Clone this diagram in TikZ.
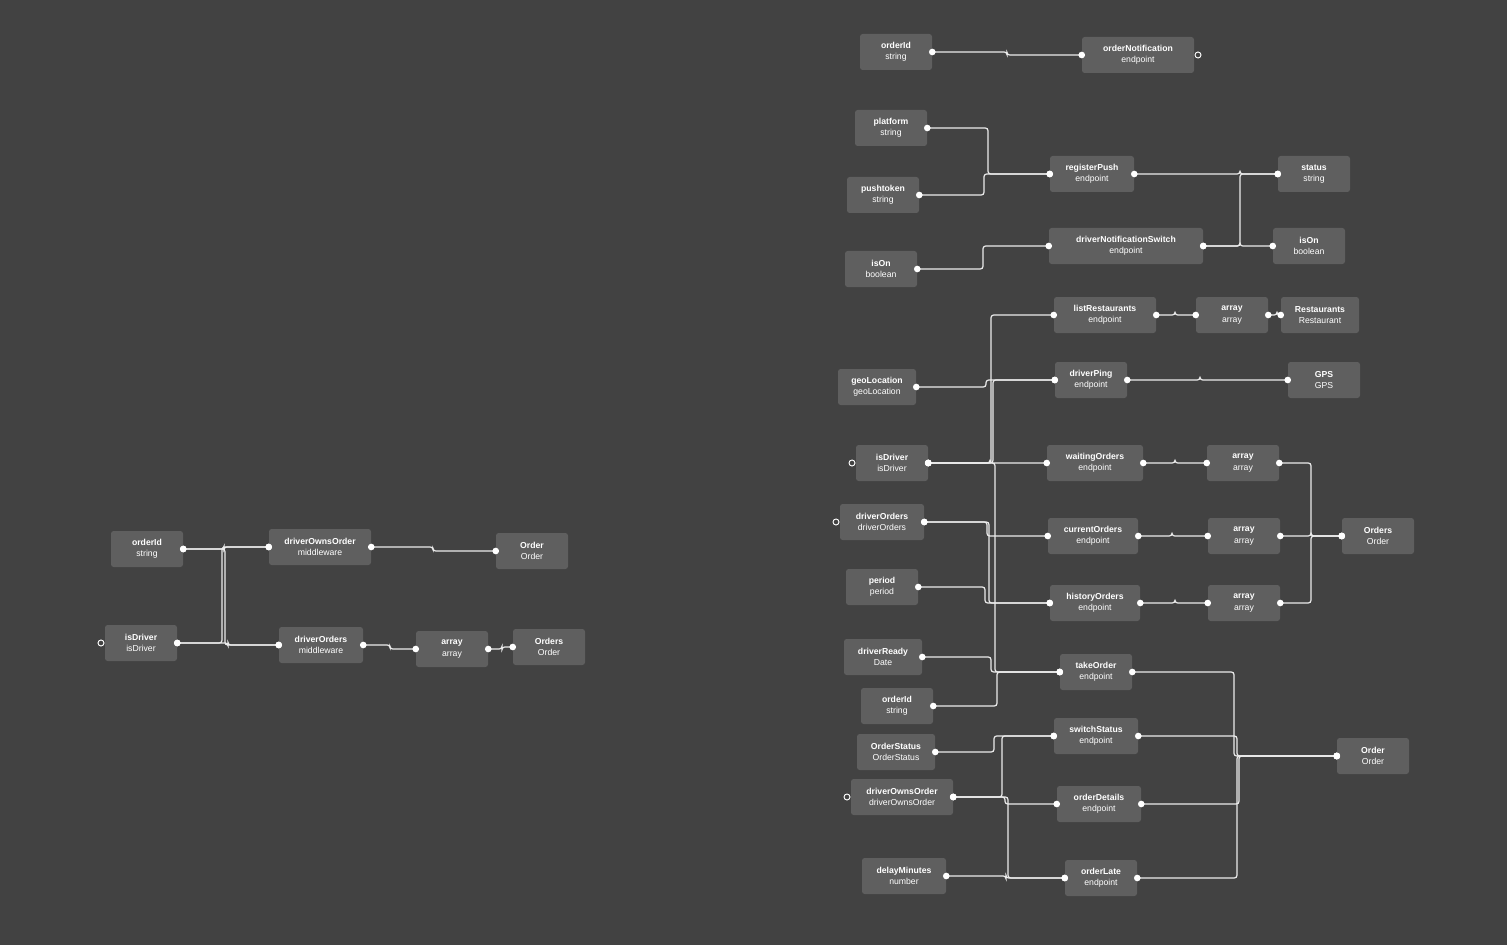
\documentclass[tikz,border=0pt]{standalone}
\usepackage{fontspec}
\setmainfont{Liberation Sans}
\begin{document}
\begin{tikzpicture}[x=0.75pt,y=-0.75pt,
  box/.style={fill=black!60!white!85, fill={rgb,255:red,95;green,95;blue,95}, rounded corners=2pt, text=white, align=center, minimum height=27pt, inner sep=1pt, font=\fontsize{6.5}{8.5}\selectfont},
  wire/.style={draw=white!92!black, line width=0.9pt, rounded corners=2pt},
  dot/.style={circle, fill=white, inner sep=0pt, minimum size=5pt},
  odot/.style={circle, draw=white, fill={rgb,255:red,66;green,66;blue,66}, line width=0.7pt, inner sep=0pt, minimum size=4.5pt}]
\fill[fill={rgb,255:red,66;green,66;blue,66}] (0,0) rectangle (1507,945);
\useasboundingbox (0,0) rectangle (1507,945);
\newcommand\nd[6]{\node[box, minimum width={#4*0.75pt}] (#1) at (#2,#3) {\textbf{#5}\\#6};}
\newcommand\wire[3]{\path (#3,0) coordinate (tmpx);
  \draw[wire] (#1.east) -- (#1.east -| tmpx) |- (#2.west);
  \node[dot] at (#1.east) {}; \node[dot] at (#2.west) {};}
% right panel sources
\nd{oid}{896}{52}{72}{orderId}{string}
\nd{onot}{1138}{55}{112}{orderNotification}{endpoint}
\nd{plat}{891}{128}{72}{platform}{string}
\nd{ptok}{883}{195}{72}{pushtoken}{string}
\nd{ison}{881}{269}{72}{isOn}{boolean}
\nd{geo}{877}{387}{78}{geoLocation}{geoLocation}
\nd{isdr}{892}{463}{72}{isDriver}{isDriver}
\nd{dord}{882}{522}{84}{driverOrders}{driverOrders}
\nd{per}{882}{587}{72}{period}{period}
\nd{drdy}{883}{657}{78}{driverReady}{Date}
\nd{oid2}{897}{706}{72}{orderId}{string}
\nd{ost}{896}{752}{78}{OrderStatus}{OrderStatus}
\nd{doo}{902}{797}{102}{driverOwnsOrder}{driverOwnsOrder}
\nd{dmin}{904}{876}{84}{delayMinutes}{number}
% endpoints
\nd{rp}{1092}{174}{84}{registerPush}{endpoint}
\nd{dns}{1126}{246}{154}{driverNotificationSwitch}{endpoint}
\nd{lr}{1105}{315}{102}{listRestaurants}{endpoint}
\nd{dp}{1091}{380}{72}{driverPing}{endpoint}
\nd{wo}{1095}{463}{96}{waitingOrders}{endpoint}
\nd{co}{1093}{536}{90}{currentOrders}{endpoint}
\nd{ho}{1095}{603}{90}{historyOrders}{endpoint}
\nd{to}{1096}{672}{72}{takeOrder}{endpoint}
\nd{ss}{1096}{736}{84}{switchStatus}{endpoint}
\nd{od}{1099}{804}{84}{orderDetails}{endpoint}
\nd{ol}{1101}{878}{72}{orderLate}{endpoint}
% outputs
\nd{stat}{1314}{174}{72}{status}{string}
\nd{ison2}{1309}{246}{72}{isOn}{boolean}
\nd{a1}{1232}{315}{72}{array}{array}
\nd{rest}{1320}{315}{78}{Restaurants}{Restaurant}
\nd{gps}{1324}{380}{72}{GPS}{GPS}
\nd{a2}{1243}{463}{72}{array}{array}
\nd{a3}{1244}{536}{72}{array}{array}
\nd{a4}{1244}{603}{72}{array}{array}
\nd{ords}{1378}{536}{72}{Orders}{Order}
\nd{ord}{1373}{756}{72}{Order}{Order}
% left panel
\nd{loid}{147}{549}{72}{orderId}{string}
\nd{lisd}{141}{643}{72}{isDriver}{isDriver}
\nd{ldoo}{320}{547}{102}{driverOwnsOrder}{middleware}
\nd{ldor}{321}{645}{84}{driverOrders}{middleware}
\nd{lord}{532}{551}{72}{Order}{Order}
\nd{larr}{452}{649}{72}{array}{array}
\nd{lords}{549}{647}{72}{Orders}{Order}
% wires right
\wire{oid}{onot}{1007}
\wire{plat}{rp}{988}
\wire{ptok}{rp}{984}
\wire{ison}{dns}{983}
\wire{rp}{stat}{1240}
\wire{dns}{stat}{1240}
\wire{dns}{ison2}{1240}
\wire{isdr}{lr}{991}
\wire{isdr}{dp}{993}
\wire{isdr}{wo}{990}
\wire{isdr}{to}{995}
\wire{geo}{dp}{986}
\wire{dord}{co}{987}
\wire{dord}{ho}{989}
\wire{per}{ho}{985}
\wire{drdy}{to}{991}
\wire{oid2}{to}{997}
\wire{lr}{a1}{1175}
\wire{a1}{rest}{1277}
\wire{dp}{gps}{1200}
\wire{wo}{a2}{1175}
\wire{co}{a3}{1172}
\wire{ho}{a4}{1175}
\wire{a2}{ords}{1311}
\wire{a3}{ords}{1311}
\wire{a4}{ords}{1311}
\wire{to}{ord}{1234}
\wire{ss}{ord}{1237}
\wire{od}{ord}{1239}
\wire{ol}{ord}{1237}
\wire{ost}{ss}{994}
\wire{doo}{ss}{1002}
\wire{doo}{od}{1005}
\wire{doo}{ol}{1008}
\wire{dmin}{ol}{1006}
% wires left
\wire{loid}{ldoo}{224}
\wire{lisd}{ldoo}{222}
\wire{loid}{ldor}{225}
\wire{lisd}{ldor}{228}
\wire{ldoo}{lord}{433}
\wire{ldor}{larr}{390}
\wire{larr}{lords}{502}
% open ports
\node[odot] at (852,463) {};
\node[odot] at (836,522) {};
\node[odot] at (847,797) {};
\node[odot] at (101,643) {};
\node[odot] at (1198,55) {};
\end{tikzpicture}
\end{document}
